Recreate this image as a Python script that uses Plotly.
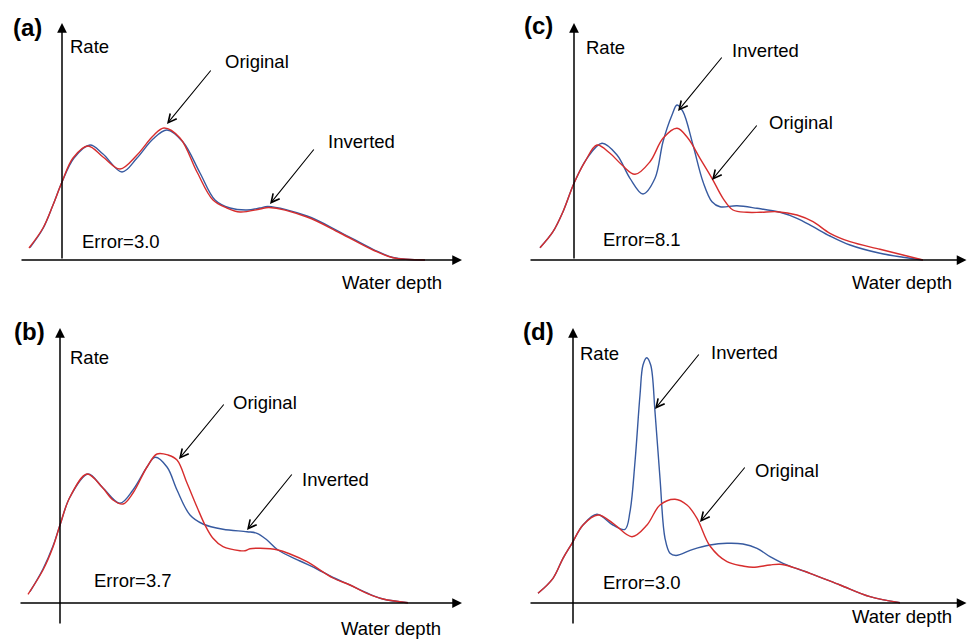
import plotly.graph_objects as go

# ---------------- data (depth, rate in arbitrary units) ----------------
# Panel (a)
a_orig_depth = [-3.3, -1.9, -0.9, 0.0, 1.1, 2.6, 4.1, 5.8, 7.5, 9.1, 10.2, 11.8, 13.5, 15.1, 16.5, 17.8, 19.8, 20.7, 24.5, 27.8, 31.1, 33.1, 36.3]
a_orig_rate = [1.2, 3.2, 5.5, 7.8, 10.2, 11.4, 10.3, 9.1, 10.5, 12.4, 13.2, 12.2, 8.8, 6.0, 5.2, 4.8, 5.1, 5.25, 4.3, 2.7, 1.0, 0.23, 0.0]
a_inv_depth = [-3.2, -1.9, -0.9, 0.0, 1.2, 2.8, 4.1, 6.0, 7.5, 9.1, 10.5, 12.1, 13.8, 15.3, 16.8, 18.5, 19.8, 20.6, 24.5, 27.8, 31.1, 33.1, 36.3]
a_inv_rate = [1.25, 3.15, 5.5, 7.8, 10.2, 11.5, 10.6, 8.8, 10.2, 12.1, 13.0, 11.8, 8.7, 6.0, 5.2, 5.0, 5.2, 5.35, 4.4, 2.8, 1.07, 0.25, 0.0]

# Panel (b)
b_orig_depth = [-3.2, -1.7, -0.7, 0.0, 1.0, 2.7, 4.2, 5.3, 6.3, 7.3, 8.7, 9.7, 10.8, 11.7, 12.7, 13.7, 14.5, 15.3, 16.3, 18.0, 18.5, 19.0, 20.0, 21.8, 23.0, 24.7, 27.3, 29.0, 30.7, 32.3, 34.8]
b_orig_rate = [0.87, 3.3, 5.6, 7.8, 10.6, 12.9, 11.6, 10.3, 9.9, 11.0, 13.6, 14.9, 14.8, 14.3, 12.0, 9.6, 7.8, 6.47, 5.63, 5.23, 5.23, 5.43, 5.47, 5.3, 4.9, 4.13, 2.5, 1.8, 0.97, 0.4, 0.03]
b_inv_depth = [-3.0, -1.7, -0.7, 0.0, 1.0, 2.8, 4.3, 6.0, 7.3, 8.7, 9.5, 10.7, 11.7, 13.0, 14.3, 16.3, 18.7, 19.7, 20.7, 21.8, 24.0, 25.7, 27.3, 29.0, 30.7, 32.3, 34.8]
b_inv_rate = [1.13, 3.4, 5.7, 7.8, 10.6, 12.9, 11.5, 9.97, 11.3, 13.6, 14.57, 13.6, 11.3, 8.8, 7.9, 7.37, 7.13, 6.97, 6.3, 5.3, 4.2, 3.4, 2.55, 1.8, 1.0, 0.4, 0.03]

# Panel (c)
c_orig_depth = [-3.4, -2.1, -1.1, 0.0, 1.1, 2.3, 3.6, 4.8, 6.1, 7.6, 8.9, 10.3, 11.4, 12.6, 13.8, 14.9, 15.9, 17.3, 18.6, 20.3, 22.3, 23.9, 25.6, 27.6, 30.6, 32.9, 34.9]
c_orig_rate = [1.23, 2.83, 4.83, 7.67, 9.83, 11.5, 10.67, 9.5, 8.57, 9.83, 12.17, 13.17, 12.17, 10.17, 8.17, 6.17, 5.0, 4.77, 4.77, 4.83, 4.5, 3.83, 2.67, 1.83, 1.07, 0.5, 0.0]
c_inv_depth = [-3.4, -2.1, -1.1, 0.0, 1.3, 2.8, 4.3, 5.6, 6.9, 8.1, 8.9, 9.8, 10.3, 10.9, 11.9, 12.9, 13.8, 14.6, 16.3, 18.3, 20.6, 22.3, 23.9, 25.6, 27.6, 30.6, 32.9, 34.9]
c_inv_rate = [1.23, 2.83, 4.83, 7.67, 10.17, 11.67, 10.5, 8.17, 6.6, 8.17, 11.83, 14.5, 15.5, 14.83, 11.5, 7.83, 5.83, 5.33, 5.43, 5.17, 4.77, 4.17, 3.33, 2.4, 1.5, 0.67, 0.27, 0.0]

# Panel (d)
d_orig_depth = [-3.5, -2.0, -1.0, -0.1, 1.0, 2.5, 4.0, 5.9, 7.4, 8.7, 10.2, 11.4, 12.4, 13.7, 15.4, 17.0, 18.0, 19.7, 20.7, 22.0, 23.7, 26.7, 29.7, 32.7]
d_orig_rate = [0.97, 2.47, 4.47, 5.97, 7.8, 8.8, 7.97, 6.63, 7.8, 9.8, 10.37, 9.8, 8.47, 5.7, 4.13, 3.7, 3.57, 3.8, 3.87, 3.57, 2.97, 1.8, 0.63, 0.03]
d_inv_depth = [-3.5, -2.0, -1.0, -0.1, 1.0, 2.4, 4.0, 5.2, 5.7, 6.2, 6.7, 7.0, 7.37, 7.77, 8.2, 8.7, 9.2, 9.7, 10.3, 12.0, 13.7, 15.4, 17.0, 18.4, 19.7, 21.0, 22.0, 23.7, 26.7, 29.7, 32.7]
d_inv_rate = [0.97, 2.47, 4.47, 5.97, 7.8, 8.87, 7.8, 7.37, 9.13, 14.13, 20.8, 23.8, 24.53, 23.8, 19.13, 12.47, 6.47, 4.97, 4.75, 5.37, 5.8, 5.97, 5.9, 5.47, 4.63, 3.97, 3.57, 2.97, 1.8, 0.63, 0.03]

panel_keys = ["a", "b", "c", "d"]
panel_labels = ["(a)", "(b)", "(c)", "(d)"]
errors = ["Error=3.0", "Error=3.7", "Error=8.1", "Error=3.0"]
x_title = "Water depth"
y_title = "Rate"
orig_name = "Original"
inv_name = "Inverted"

series = {
    "a": (a_orig_depth, a_orig_rate, a_inv_depth, a_inv_rate),
    "b": (b_orig_depth, b_orig_rate, b_inv_depth, b_inv_rate),
    "c": (c_orig_depth, c_orig_rate, c_inv_depth, c_inv_rate),
    "d": (d_orig_depth, d_orig_rate, d_inv_depth, d_inv_rate),
}

# ---------------- layout (positions / styles) ----------------
RED = "rgb(215,45,45)"
BLUE = "rgb(55,90,160)"
FONT = "Arial, 'Liberation Sans', sans-serif"
FS = 18.5

panels = {
    "a": dict(ax="", xd=[0, 0.5], yd=[0.515625, 1], xr=[-6.2, 42.15], yr=[-5, 26],
              label=(-3.5, 23.3), rate=(0.6, 21.4), water=(38.2, -2.2), err=(1.8, 1.9),
              yaxis_line=((0, 0), (0, 23.7)), xaxis_line=((-4.2, 0), (40.0, 0)),
              orig_txt=(19.45, 19.9), orig_arrow=((15.0, 19.1), (10.5, 13.6)),
              inv_txt=(29.9, 11.9), inv_arrow=((25.3, 11.2), (20.8, 5.6))),
    "c": dict(ax="2", xd=[0.5, 1], yd=[0.515625, 1], xr=[-9.05, 39.3], yr=[-5, 26],
              label=(-3.6, 23.5), rate=(1.0, 21.3), water=(38.0, -2.2), err=(2.7, 2.1),
              yaxis_line=((0, 0), (0, 23.7)), xaxis_line=((-4.5, 0), (39.25, 0)),
              orig_txt=(22.7, 13.8), orig_arrow=((18.4, 13.6), (13.8, 8.0)),
              inv_txt=(19.1, 21.0), inv_arrow=((14.9, 20.4), (10.4, 14.9))),
    "b": dict(ax="3", xd=[0, 0.5], yd=[0, 0.515625], xr=[-6.0, 42.35], yr=[-3.7, 29.3],
              label=(-3.1, 27.2), rate=(0.8, 24.6), water=(38.3, -2.5), err=(3.2, 2.3),
              yaxis_line=((0, -2.2), (0, 27.5)), xaxis_line=((-4.1, 0), (40.2, 0)),
              orig_txt=(20.45, 20.1), orig_arrow=((16.5, 20.0), (11.9, 14.4)),
              inv_txt=(27.5, 12.4), inv_arrow=((23.3, 13.0), (18.7, 7.3))),
    "d": dict(ax="4", xd=[0.5, 1], yd=[0, 0.515625], xr=[-8.95, 39.4], yr=[-3.7, 29.3],
              label=(-3.45, 27.2), rate=(0.5, 25.0), water=(38.1, -1.3), err=(2.8, 2.1),
              yaxis_line=((0, -2.2), (0, 27.5)), xaxis_line=((-4.4, 0), (39.35, 0)),
              orig_txt=(21.35, 13.3), orig_arrow=((17.3, 13.7), (12.7, 8.1)),
              inv_txt=(17.1, 25.1), inv_arrow=((12.7, 25.0), (8.2, 19.4))),
}

fig = go.Figure()
annotations = []
layout_axes = {}

for i, key in enumerate(panel_keys):
    p = panels[key]
    s = p["ax"]
    xref = "x" + s
    yref = "y" + s
    od, orr, idp, ir = series[key]
    fig.add_trace(go.Scatter(x=idp, y=ir, mode="lines", name=inv_name,
                             line=dict(color=BLUE, width=1.4, shape="spline", smoothing=1.0),
                             xaxis=xref, yaxis=yref, showlegend=False, hoverinfo="skip"))
    fig.add_trace(go.Scatter(x=od, y=orr, mode="lines", name=orig_name,
                             line=dict(color=RED, width=1.4, shape="spline", smoothing=1.0),
                             xaxis=xref, yaxis=yref, showlegend=False, hoverinfo="skip"))
    layout_axes["xaxis" + s] = dict(domain=p["xd"], range=p["xr"], visible=False, fixedrange=True, anchor=yref)
    layout_axes["yaxis" + s] = dict(domain=p["yd"], range=p["yr"], visible=False, fixedrange=True, anchor=xref)

    # axis arrows
    for (tail, head) in [p["yaxis_line"], p["xaxis_line"]]:
        annotations.append(dict(x=head[0], y=head[1], ax=tail[0], ay=tail[1], xref=xref, yref=yref,
                                axref=xref, ayref=yref, text="", showarrow=True, arrowhead=2,
                                arrowsize=1.3, arrowwidth=1.5, arrowcolor="black", standoff=0))
    # pointer arrows
    for (tail, head) in [p["orig_arrow"], p["inv_arrow"]]:
        annotations.append(dict(x=head[0], y=head[1], ax=tail[0], ay=tail[1], xref=xref, yref=yref,
                                axref=xref, ayref=yref, text="", showarrow=True, arrowhead=5,
                                arrowsize=1.5, arrowwidth=1.1, arrowcolor="black", standoff=0))
    # texts
    annotations.append(dict(x=p["label"][0], y=p["label"][1], xref=xref, yref=yref,
                            text="<b>" + panel_labels[i] + "</b>",
                            showarrow=False, font=dict(size=24, color="black", family=FONT)))
    annotations.append(dict(x=p["rate"][0], y=p["rate"][1], xref=xref, yref=yref, text=y_title,
                            xanchor="left", showarrow=False, font=dict(size=FS, color="black", family=FONT)))
    annotations.append(dict(x=p["water"][0], y=p["water"][1], xref=xref, yref=yref, text=x_title,
                            xanchor="right", showarrow=False, font=dict(size=FS, color="black", family=FONT)))
    annotations.append(dict(x=p["err"][0], y=p["err"][1], xref=xref, yref=yref, text=errors[i],
                            xanchor="left", showarrow=False, font=dict(size=FS, color="black", family=FONT)))
    annotations.append(dict(x=p["orig_txt"][0], y=p["orig_txt"][1], xref=xref, yref=yref, text=orig_name,
                            showarrow=False, font=dict(size=FS, color="black", family=FONT)))
    annotations.append(dict(x=p["inv_txt"][0], y=p["inv_txt"][1], xref=xref, yref=yref, text=inv_name,
                            showarrow=False, font=dict(size=FS, color="black", family=FONT)))

fig.update_layout(
    width=967, height=640,
    margin=dict(l=0, r=0, t=0, b=0, pad=0),
    paper_bgcolor="white", plot_bgcolor="white",
    showlegend=False,
    annotations=annotations,
    **layout_axes,
)

fig.write_html("out.html", config={"displayModeBar": False})
